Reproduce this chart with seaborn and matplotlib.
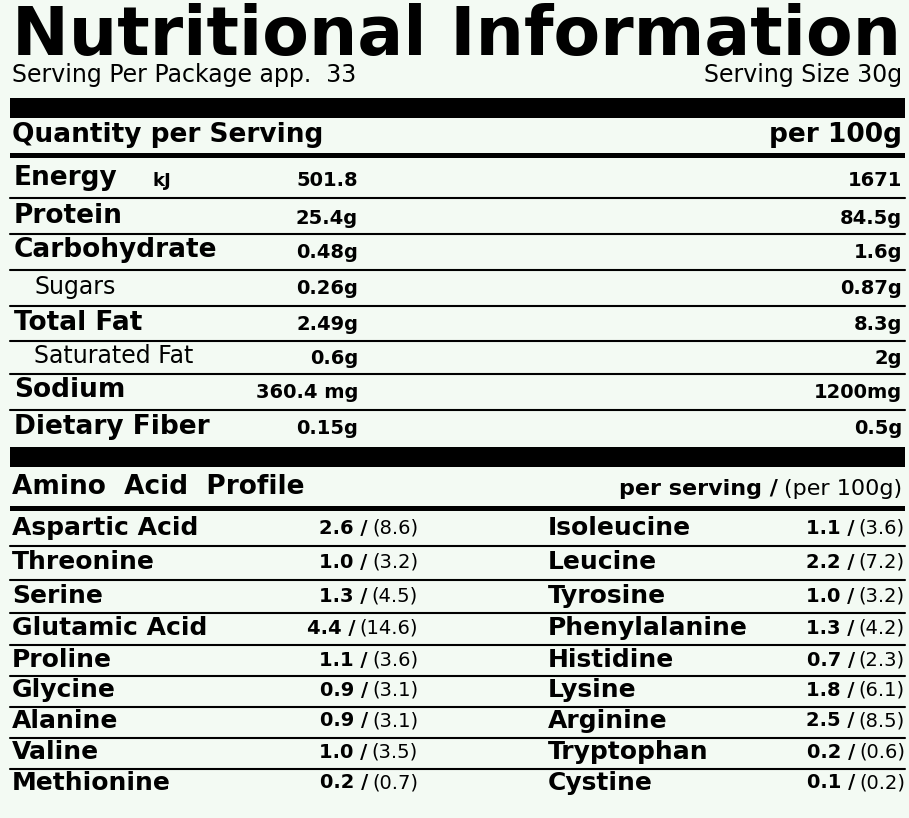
import matplotlib
matplotlib.use("Agg")
import matplotlib.pyplot as plt
import seaborn as sns

sns.set_theme(style="white")
plt.rcParams['font.family'] = ['DejaVu Sans']
plt.rcParams['text.color'] = 'black'

nutrients = ["Energy", "Protein", "Carbohydrate", "Sugars", "Total Fat", "Saturated Fat", "Sodium", "Dietary Fiber"]
sub_rows = [False, False, False, True, False, True, False, False]
per_serving = ["501.8", "25.4g", "0.48g", "0.26g", "2.49g", "0.6g", "360.4 mg", "0.15g"]
per_100g = ["1671", "84.5g", "1.6g", "0.87g", "8.3g", "2g", "1200mg", "0.5g"]

amino_left = ["Aspartic Acid", "Threonine", "Serine", "Glutamic Acid", "Proline", "Glycine", "Alanine", "Valine", "Methionine"]
amino_left_srv = ["2.6", "1.0", "1.3", "4.4", "1.1", "0.9", "0.9", "1.0", "0.2"]
amino_left_100 = ["8.6", "3.2", "4.5", "14.6", "3.6", "3.1", "3.1", "3.5", "0.7"]
amino_right = ["Isoleucine", "Leucine", "Tyrosine", "Phenylalanine", "Histidine", "Lysine", "Arginine", "Tryptophan", "Cystine"]
amino_right_srv = ["1.1", "2.2", "1.0", "1.3", "0.7", "1.8", "2.5", "0.2", "0.1"]
amino_right_100 = ["3.6", "7.2", "3.2", "4.2", "2.3", "6.1", "8.5", "0.6", "0.2"]

bg = "#f3faf3"
fig = plt.figure(figsize=(9.09, 8.18), dpi=100, facecolor=bg)
ax = fig.add_axes([0, 0, 1, 1])
ax.set_xlim(0, 909); ax.set_ylim(818, 0); ax.axis("off"); ax.set_facecolor(bg)

ax.text(457, 36, "Nutritional Information", ha="center", va="center", fontsize=49, fontweight="bold")
ax.text(12, 75, "Serving Per Package app.  33", ha="left", va="center", fontsize=17)
ax.text(902, 75, "Serving Size 30g", ha="right", va="center", fontsize=17)

def bar(y0, y1):
    ax.fill_between([10, 905], y0, y1, color="black", lw=0)

bar(98, 118)
ax.text(12, 135, "Quantity per Serving", ha="left", va="center", fontsize=19, fontweight="bold")
ax.text(902, 135, "per 100g", ha="right", va="center", fontsize=19, fontweight="bold")
bar(153, 158)

ys = [178, 216, 250, 287, 323, 356, 390, 427]
for i, (n, s, a, b) in enumerate(zip(nutrients, sub_rows, per_serving, per_100g)):
    y = ys[i]
    if s:
        ax.text(34, y, n, ha="left", va="center", fontsize=17)
    else:
        ax.text(14, y, n, ha="left", va="center", fontsize=19, fontweight="bold")
    ax.text(358, y + 2, a, ha="right", va="center", fontsize=14, fontweight="bold")
    ax.text(902, y + 2, b, ha="right", va="center", fontsize=14, fontweight="bold")
    if i < len(ys) - 1:
        ax.plot([10, 905], [(ys[i] + ys[i + 1]) / 2 + 1] * 2, color="black", lw=1.5)
ax.text(152, 181, "kJ", ha="left", va="center", fontsize=13, fontweight="bold")

bar(447, 467)
ax.text(12, 487, "Amino  Acid  Profile", ha="left", va="center", fontsize=19, fontweight="bold")
t = ax.text(902, 489, "(per 100g)", ha="right", va="center", fontsize=16)
ax.annotate("per serving /", xy=(0, 0.5), xycoords=t, xytext=(-4, 0), textcoords="offset points",
            ha="right", va="center", fontsize=16, fontweight="bold")
bar(506, 511)

ays = [528, 562, 596, 628, 660, 690, 721, 752, 783]
for i, y in enumerate(ays):
    ax.text(12, y, amino_left[i], ha="left", va="center", fontsize=18, fontweight="bold")
    ax.text(548, y, amino_right[i], ha="left", va="center", fontsize=18, fontweight="bold")
    for xr, srv, p in [(418, amino_left_srv[i], amino_left_100[i]), (905, amino_right_srv[i], amino_right_100[i])]:
        tt = ax.text(xr, y, f"({p})", ha="right", va="center", fontsize=14)
        ax.annotate(f"{srv} /", xy=(0, 0.5), xycoords=tt, xytext=(-3, 0), textcoords="offset points",
                    ha="right", va="center", fontsize=14, fontweight="bold")
    if i < len(ays) - 1:
        yl = (ays[i] + ays[i + 1]) / 2 + 1
        ax.plot([10, 905], [yl, yl], color="black", lw=1.5)

fig.savefig("out.png", dpi=100, facecolor=bg)
